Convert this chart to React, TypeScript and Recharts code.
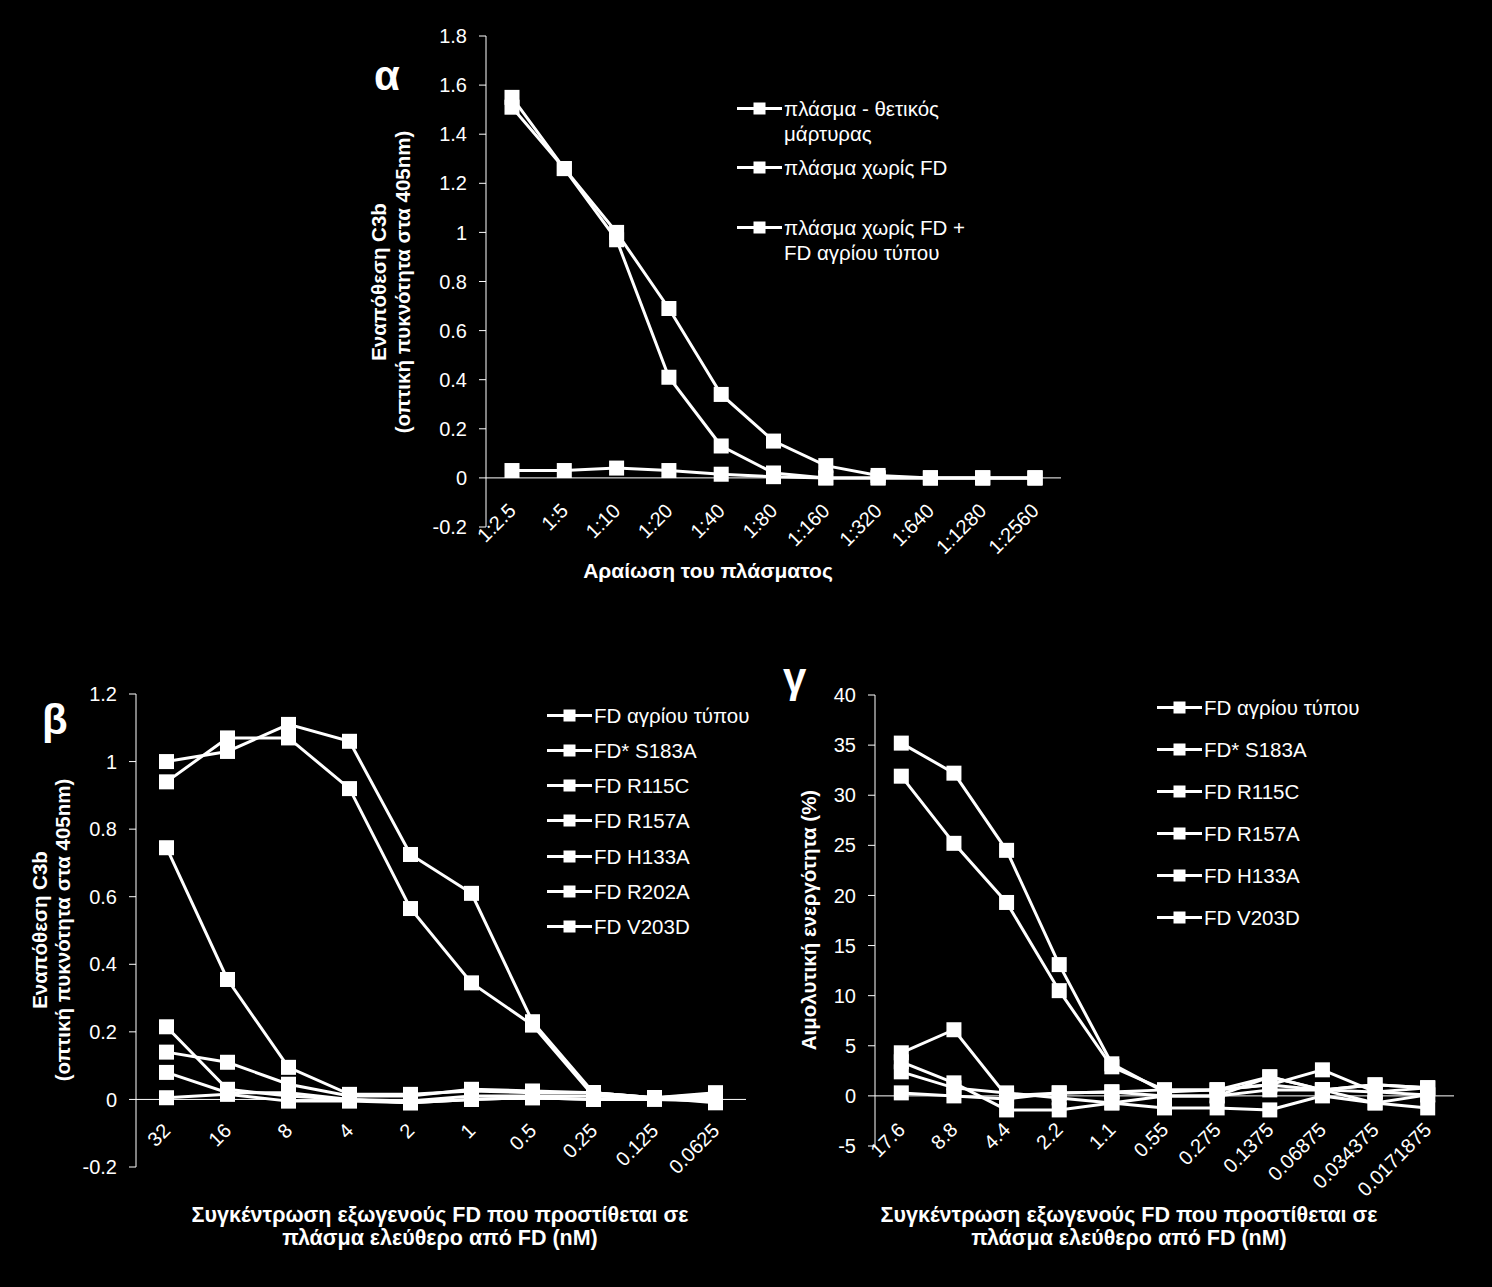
import React from 'react'
import { LineChart, Line, XAxis, YAxis, ReferenceLine, Legend } from 'recharts'

const FONT = '"Liberation Sans", Arial, sans-serif'

// α: plasma dilution
const dilutions = ['1:2.5', '1:5', '1:10', '1:20', '1:40', '1:80', '1:160', '1:320', '1:640', '1:1280', '1:2560']
const plasmaPositive = [1.55, 1.26, 1.0, 0.69, 0.34, 0.15, 0.05, 0.01, 0, 0, 0]
const plasmaNoFD = [0.03, 0.03, 0.04, 0.03, 0.015, 0.005, 0, 0, 0, 0, 0]
const plasmaNoFDPlusWT = [1.51, 1.26, 0.97, 0.41, 0.13, 0.02, 0, 0, 0, 0, 0]
const alphaTicks = [-0.2, 0, 0.2, 0.4, 0.6, 0.8, 1, 1.2, 1.4, 1.6, 1.8]

// β: C3b deposition vs FD concentration
const concB = ['32', '16', '8', '4', '2', '1', '0.5', '0.25', '0.125', '0.0625']
const bWT = [1.0, 1.03, 1.11, 1.06, 0.725, 0.61, 0.23, 0.02, 0.005, 0.01]
const bS183A = [0.005, 0.015, -0.005, -0.005, -0.01, 0, 0.005, 0, 0, -0.005]
const bR115C = [0.94, 1.07, 1.07, 0.92, 0.565, 0.345, 0.22, 0.01, 0.005, 0.005]
const bR157A = [0.745, 0.355, 0.095, 0.015, 0.015, 0.025, 0.02, 0.02, 0.005, 0.015]
const bH133A = [0.215, 0.03, 0.01, 0, -0.005, 0.01, 0.01, 0.01, 0.005, 0]
const bR202A = [0.14, 0.11, 0.045, 0.01, 0.01, 0.03, 0.025, 0.02, 0.005, 0.02]
const bV203D = [0.08, 0.02, 0.02, 0, -0.01, 0, 0.005, 0, 0.005, -0.01]
const betaTicks = [-0.2, 0, 0.2, 0.4, 0.6, 0.8, 1, 1.2]

// γ: haemolytic activity
const concG = ['17.6', '8.8', '4.4', '2.2', '1.1', '0.55', '0.275', '0.1375', '0.06875', '0.034375', '0.0171875']
const gWT = [35.2, 32.2, 24.5, 13.1, 3.2, 0.4, 0.6, 1.1, 0.6, 1.1, 0.8]
const gS183A = [0.3, 0.0, -0.3, 0.3, 0.4, 0.0, 0.0, 1.9, 0.6, -0.7, 0.1]
const gR115C = [31.9, 25.2, 19.3, 10.5, 2.9, 0.6, 0.6, 1.9, 0.6, 0.4, 0.8]
const gR157A = [4.3, 6.6, 0.0, 0.3, 0.4, 0.6, 0.6, 1.1, 2.6, 0.4, 0.1]
const gH133A = [3.4, 1.3, -1.4, -1.4, -0.7, -1.2, -1.2, -1.4, 0.0, -0.7, -1.2]
const gV203D = [2.4, 0.8, 0.3, -0.2, -0.7, 0.0, 0.0, 0.6, 0.6, 1.1, 0.8]
const gammaTicks = [-5, 0, 5, 10, 15, 20, 25, 30, 35, 40]

type Series = { key: string; name: string; values: number[] }

const alphaSeries: Series[] = [
  { key: 'pos', name: 'πλάσμα - θετικός\nμάρτυρας', values: plasmaPositive },
  { key: 'nofd', name: 'πλάσμα χωρίς FD', values: plasmaNoFD },
  { key: 'nofdwt', name: 'πλάσμα χωρίς FD +\nFD αγρίου τύπου', values: plasmaNoFDPlusWT },
]
const betaSeries: Series[] = [
  { key: 'wt', name: 'FD αγρίου τύπου', values: bWT },
  { key: 's183a', name: 'FD* S183A', values: bS183A },
  { key: 'r115c', name: 'FD R115C', values: bR115C },
  { key: 'r157a', name: 'FD R157A', values: bR157A },
  { key: 'h133a', name: 'FD H133A', values: bH133A },
  { key: 'r202a', name: 'FD R202A', values: bR202A },
  { key: 'v203d', name: 'FD V203D', values: bV203D },
]
const gammaSeries: Series[] = [
  { key: 'wt', name: 'FD αγρίου τύπου', values: gWT },
  { key: 's183a', name: 'FD* S183A', values: gS183A },
  { key: 'r115c', name: 'FD R115C', values: gR115C },
  { key: 'r157a', name: 'FD R157A', values: gR157A },
  { key: 'h133a', name: 'FD H133A', values: gH133A },
  { key: 'v203d', name: 'FD V203D', values: gV203D },
]

const buildRows = (cats: string[], series: Series[]) =>
  cats.map((label, i) => {
    const row: Record<string, any> = { label }
    series.forEach((s) => (row[s.key] = s.values[i]))
    return row
  })

const SquareDot = (props: any) => {
  const { cx, cy, index } = props
  if (cx == null || cy == null) return <g key={index} />
  return <rect key={index} x={cx - 7.5} y={cy - 7.5} width={15} height={15} fill="#fff" />
}

const RotTick = (props: any) => {
  const { x, y, payload, lift } = props
  const ax = x + 5
  const ay = y - lift
  return (
    <text x={ax} y={ay} transform={`rotate(-45 ${ax} ${ay})`} textAnchor="end" fill="#fff" fontSize={20} fontFamily={FONT}>
      {payload.value}
    </text>
  )
}

const LegendBox = ({ payload, rowH, order }: any) => {
  // keep the series order, not the alphabetical one
  const items = [...(payload ?? [])].sort(
    (a: any, b: any) => order.indexOf(a.dataKey) - order.indexOf(b.dataKey)
  )
  return (
    <div style={{ fontFamily: FONT, fontSize: 20.5, color: '#fff' }}>
      {items.map((p: any) => (
        <div key={p.value} style={{ display: 'flex', alignItems: 'flex-start', height: rowH }}>
          <svg width={47} height={25} style={{ flex: 'none' }}>
            <line x1={0} y1={12.5} x2={45} y2={12.5} stroke="#fff" strokeWidth={3} />
            <rect x={16.5} y={6.5} width={12} height={12} fill="#fff" />
          </svg>
          <div style={{ lineHeight: '25px', whiteSpace: 'pre' }}>{p.value}</div>
        </div>
      ))}
    </div>
  )
}

interface PanelProps {
  left: number
  top: number
  width: number
  height: number
  marginTop: number
  marginRight: number
  marginBottom: number
  cats: string[]
  series: Series[]
  domain: [number, number]
  ticks: number[]
  pad: number
  lift: number
  legendLeft: number
  legendTop: number
  rowH: number
}

function Panel(p: PanelProps) {
  const data = buildRows(p.cats, p.series)
  const order = p.series.map((s) => s.key)
  return (
    <div style={{ position: 'absolute', left: p.left, top: p.top }}>
      <LineChart
        width={p.width}
        height={p.height}
        data={data}
        margin={{ top: p.marginTop, right: p.marginRight, bottom: p.marginBottom, left: 0 }}
      >
        <XAxis
          dataKey="label"
          axisLine={false}
          tickLine={false}
          tickSize={0}
          tickMargin={0}
          height={30}
          interval={0}
          padding={{ left: p.pad, right: p.pad }}
          tick={(t: any) => <RotTick {...t} lift={p.lift} />}
        />
        <YAxis
          width={100}
          domain={p.domain}
          ticks={p.ticks}
          allowDataOverflow
          stroke="#fff"
          tickSize={7}
          tickMargin={12}
          tick={{ fill: '#fff', fontSize: 20, fontFamily: FONT }}
          tickFormatter={(v: any) => `${v}`}
        />
        <ReferenceLine y={0} stroke="#fff" strokeWidth={1} />
        <Legend
          layout="vertical"
          align="center"
          verticalAlign="middle"
          wrapperStyle={{ left: p.legendLeft, top: p.legendTop, width: 330 }}
          content={(lp: any) => <LegendBox payload={lp.payload} rowH={p.rowH} order={order} />}
        />
        {p.series.map((s) => (
          <Line
            key={s.key}
            dataKey={s.key}
            name={s.name}
            type="linear"
            stroke="#fff"
            strokeWidth={3}
            dot={SquareDot}
            activeDot={false}
            isAnimationActive={false}
          />
        ))}
      </LineChart>
    </div>
  )
}

const titleStyle = { fontFamily: FONT, fontWeight: 700, fill: '#fff' } as const

export default function App() {
  return (
    <div style={{ position: 'absolute', left: 0, top: 0, width: 1492, height: 1287, background: '#000', overflow: 'hidden' }}>
      <Panel
        left={386} top={0} width={760} height={600}
        marginTop={36} marginRight={85} marginBottom={43}
        cats={dilutions} series={alphaSeries} domain={[-0.2, 1.8]} ticks={alphaTicks}
        pad={26} lift={15} legendLeft={351} legendTop={95.5} rowH={59.5}
      />
      <Panel
        left={36} top={650} width={760} height={600}
        marginTop={44} marginRight={50} marginBottom={53}
        cats={concB} series={betaSeries} domain={[-0.2, 1.2]} ticks={betaTicks}
        pad={30.5} lift={35} legendLeft={511} legendTop={52.5} rowH={35.3}
      />
      <Panel
        left={775} top={650} width={700} height={600}
        marginTop={45} marginRight={21} marginBottom={74}
        cats={concG} series={gammaSeries} domain={[-5, 40]} ticks={gammaTicks}
        pad={26.3} lift={15} legendLeft={382} legendTop={44.5} rowH={42.2}
      />
      <svg width={1492} height={1287} style={{ position: 'absolute', left: 0, top: 0, pointerEvents: 'none' }}>
        <text x={374} y={90} fontSize={42} {...titleStyle}>α</text>
        <text x={42} y={734} fontSize={42} {...titleStyle}>β</text>
        <text x={783} y={692} fontSize={42} {...titleStyle}>γ</text>

        <text x={386} y={282} fontSize={20.5} textAnchor="middle" transform="rotate(-90 386 282)" {...titleStyle}>Εναπόθεση C3b</text>
        <text x={410} y={282} fontSize={20.5} textAnchor="middle" transform="rotate(-90 410 282)" {...titleStyle}>(οπτική πυκνότητα στα 405nm)</text>
        <text x={708} y={578} fontSize={21} textAnchor="middle" {...titleStyle}>Αραίωση του πλάσματος</text>

        <text x={47} y={930} fontSize={20.5} textAnchor="middle" transform="rotate(-90 47 930)" {...titleStyle}>Εναπόθεση C3b</text>
        <text x={70} y={930} fontSize={20.5} textAnchor="middle" transform="rotate(-90 70 930)" {...titleStyle}>(οπτική πυκνότητα στα 405nm)</text>
        <text x={440} y={1222} fontSize={21.5} textAnchor="middle" {...titleStyle}>Συγκέντρωση εξωγενούς FD που προστίθεται σε</text>
        <text x={440} y={1245} fontSize={21.5} textAnchor="middle" {...titleStyle}>πλάσμα ελεύθερο από FD (nM)</text>

        <text x={816} y={920} fontSize={20.5} textAnchor="middle" transform="rotate(-90 816 920)" {...titleStyle}>Αιμολυτική ενεργότητα (%)</text>
        <text x={1129} y={1222} fontSize={21.5} textAnchor="middle" {...titleStyle}>Συγκέντρωση εξωγενούς FD που προστίθεται σε</text>
        <text x={1129} y={1245} fontSize={21.5} textAnchor="middle" {...titleStyle}>πλάσμα ελεύθερο από FD (nM)</text>
      </svg>
    </div>
  )
}
